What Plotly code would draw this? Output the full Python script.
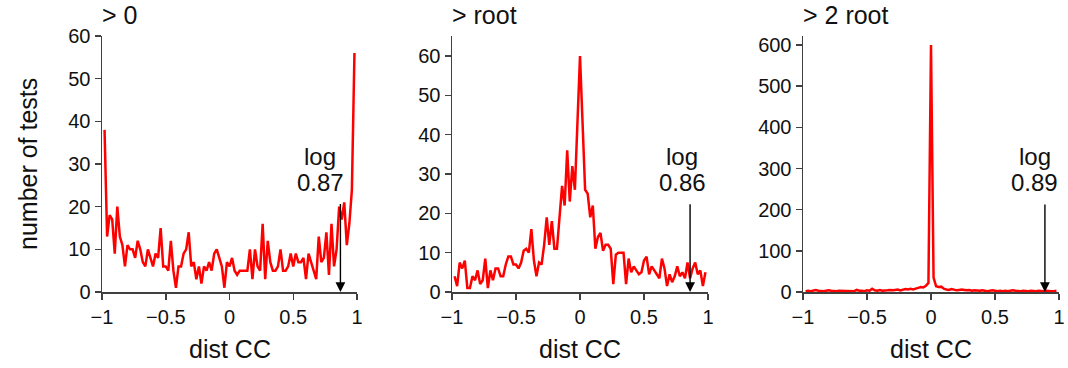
import plotly.graph_objects as go

# ---- data ----
titles = ["> 0", "> root", "> 2 root"]
log_cc = [0.87, 0.86, 0.89]
arrow_top = [21, 22.7, 216]

gt0 = [38, 13, 18, 17, 9, 20, 13, 11, 6, 11,
       10, 10, 8, 12, 10, 7, 6, 10, 8, 6,
       9, 8, 15, 6, 6, 5, 12, 5, 1, 6,
       6, 9, 10, 14, 6, 7, 3, 6, 2, 6,
       5, 7, 5, 9, 10, 8, 6, 1, 7, 6,
       8, 5, 4, 5, 5, 5, 5, 10, 3, 10,
       6, 5, 16, 3, 12, 7, 5, 5, 6, 10,
       5, 5, 6, 9, 6, 9, 7, 7, 8, 3,
       9, 7, 5, 3, 13, 7, 8, 14, 4, 16,
       6, 10, 20, 17, 21, 11, 16, 24, 56]

gt_root = [4, 1.5, 7.5, 6, 8, 1, 1, 4, 3, 5.5,
           2, 3, 8.5, 1, 5.5, 3, 6, 6, 4, 4,
           7, 9, 9, 7, 7, 6, 7.5, 10.5, 11, 10,
           16, 8,
           4, 7.5, 7, 12, 19, 12, 18, 11, 11, 20,
           27, 22, 36, 23, 32, 26, 43,
           60,
           43, 26, 25, 19, 22, 11,
           14, 15, 10.5, 12, 12, 11, 2, 9.5, 10, 10,
           10, 2, 8.5, 5, 6.5, 5.5, 4.5, 5, 8, 9,
           4.5, 6.5, 5.5, 4.5, 3.5, 8.5, 6, 1.5, 4.5, 2.5,
           4, 6.5, 4, 5, 3.5, 7.5, 3.5, 6, 7.5, 4.5,
           5.5, 1.5, 5]

gt_2root = [2, 3, 2, 3, 5, 3, 2, 2, 3, 4, 3, 2, 2, 3, 3, 2, 2, 3, 2, 2, 5, 3, 3, 2,
            4, 3, 8, 4, 3, 5, 3, 3, 4, 5, 4, 5, 6, 4, 5, 7, 6, 8, 6, 9, 10, 12, 11,
            15, 22, 600, 35, 14, 12, 13,
            8, 6, 5, 7, 6, 4, 5, 6, 5, 4, 5, 3, 4, 3, 3, 4, 3, 2, 3, 4, 3, 2, 3,
            2, 3, 2, 3, 4, 3, 2, 2, 3, 2, 2, 3, 2, 2, 3, 2, 2, 3, 2, 2, 2, 3]

series = [gt0, gt_root, gt_2root]
y_ranges = [[0, 60], [0, 65.1], [0, 622]]
y_dtick = [10, 10, 100]
text_shift = [-20, -8, -10]

x_ticks = [-1, -0.5, 0, 0.5, 1]
x_ticktext = ["\u22121", "\u22120.5", "0", "0.5", "1"]


def bin_centers(n):
    step = 2.0 / (n + 1)
    return [-1 + step * (i + 1) for i in range(n)]


W, H = 1068, 368
x_px = [(102, 357), (452, 708), (803, 1059)]
y_px = (36, 292)
FONT = "Liberation Sans, Arial, sans-serif"
AX = "#404040"
TXT = "#111"
TICK_SIZE = 20
LABEL_SIZE = 25
LOG_SIZE = 24


def px(p):
    return p / W


def py(p):
    return (H - p) / H


fig = go.Figure()
layout = dict(
    width=W, height=H, margin=dict(l=0, r=0, t=0, b=0, autoexpand=False),
    paper_bgcolor="white", plot_bgcolor="white", showlegend=False,
    font=dict(family=FONT, size=LABEL_SIZE, color=TXT),
)
annotations = []
ydom = [py(y_px[1]), py(y_px[0])]

for k in range(3):
    sfx = "" if k == 0 else str(k + 1)
    xd = [px(x_px[k][0]), px(x_px[k][1])]
    vals = series[k]
    fig.add_trace(go.Scatter(x=bin_centers(len(vals)), y=vals, mode="lines",
                             line=dict(color="#ff0000", width=2.5),
                             xaxis="x" + sfx, yaxis="y" + sfx))
    common = dict(showgrid=False, zeroline=False, showline=True, linecolor=AX, linewidth=1.5,
                  ticks="outside", ticklen=6, tickcolor=AX, tickwidth=1.5,
                  tickfont=dict(size=TICK_SIZE, family=FONT, color=TXT), automargin=False)
    layout["xaxis" + sfx] = dict(domain=xd, range=[-1, 1], anchor="y" + sfx,
                                 tickvals=x_ticks, ticktext=x_ticktext, **common)
    layout["yaxis" + sfx] = dict(domain=ydom, range=y_ranges[k], anchor="x" + sfx,
                                 dtick=y_dtick[k], tick0=0, **common)
    # panel title
    annotations.append(dict(text=titles[k], xref="paper", yref="paper",
                            x=px(x_px[k][0] - 2), y=py(15), xanchor="left", yanchor="middle",
                            showarrow=False, font=dict(size=LABEL_SIZE, family=FONT, color=TXT)))
    # x title
    annotations.append(dict(text="dist CC", xref="paper", yref="paper",
                            x=(xd[0] + xd[1]) / 2, y=py(349), xanchor="center",
                            yanchor="middle", showarrow=False,
                            font=dict(size=LABEL_SIZE, family=FONT, color=TXT)))
    # arrow
    annotations.append(dict(text="", x=log_cc[k], y=0, ax=log_cc[k], ay=arrow_top[k],
                            xref="x" + sfx, yref="y" + sfx, axref="x" + sfx, ayref="y" + sfx,
                            showarrow=True, arrowhead=2, arrowsize=1.4, arrowwidth=1.4,
                            arrowcolor="black"))
    # label (two lines)
    for line, ypix in (("log", 157), ("%.2f" % log_cc[k], 182)):
        annotations.append(dict(text=line, x=log_cc[k], xref="x" + sfx,
                                yref="paper", y=py(ypix), xanchor="center", yanchor="middle",
                                xshift=text_shift[k], showarrow=False,
                                font=dict(size=LOG_SIZE, family=FONT, color=TXT)))

annotations.append(dict(text="number of tests", xref="paper", yref="paper",
                        x=px(28), y=py(164), xanchor="center", yanchor="middle",
                        textangle=-90, showarrow=False,
                        font=dict(size=LABEL_SIZE, family=FONT, color=TXT)))
layout["annotations"] = annotations
fig.update_layout(**layout)
fig.write_html("out.html", config={"displayModeBar": False, "staticPlot": True},
               post_script="document.body.style.margin='0';document.body.style.overflow='hidden';")
